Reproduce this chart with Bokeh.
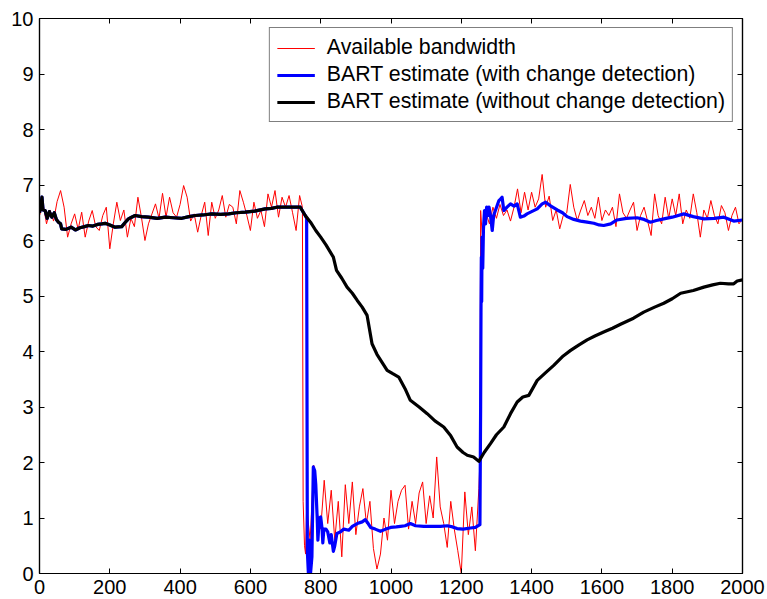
from bokeh.plotting import figure
from bokeh.models import Range1d, FixedTicker, LinearAxis, Legend, LegendItem, CustomJSTickFormatter
from bokeh.embed import file_html
from bokeh.resources import INLINE

# ---------------- data ----------------
# Available bandwidth (red), sampled by eye
red_x1 = list(range(0, 750, 10))
red_y1 = [6.45, 6.66, 6.30, 6.55, 6.35, 6.70, 6.90, 6.60, 6.06, 6.30,
          6.48, 6.20, 6.51, 6.06, 6.35, 6.54, 6.25, 6.18, 6.45, 6.60,
          5.85, 6.30, 6.69, 6.36, 6.55, 6.06, 6.40, 6.25, 6.78, 6.42,
          6.00, 6.30, 6.48, 6.66, 6.40, 6.85, 6.42, 6.78, 6.50, 6.42,
          6.65, 6.99, 6.78, 6.35, 6.48, 6.15, 6.45, 6.69, 6.09, 6.69,
          6.40, 6.55, 6.81, 6.42, 6.65, 6.60, 6.30, 6.90, 6.69, 6.45,
          6.18, 6.69, 6.40, 6.54, 6.25, 6.84, 6.60, 6.90, 6.42, 6.78,
          6.60, 6.81, 6.50, 6.18, 6.81]
red_xt1 = [748, 750, 754, 757]
red_yt1 = [6.60, 1.30, 0.50, 0.35]
red_x2 = list(range(760, 1255, 10))
red_y2 = [1.20, 0.60, 1.95, 1.10, 0.80, 1.68, 0.90, 1.50, 0.60, 1.30,
          0.30, 1.60, 0.90, 1.65, 0.70, 1.20, 1.53, 0.90, 1.30, 0.45,
          0.08, 0.35, 1.00, 0.60, 1.50, 0.90, 1.30, 1.50, 1.59, 0.80,
          1.30, 0.90, 1.45, 1.65, 0.90, 1.40, 1.00, 2.10, 1.20, 0.90,
          0.47, 1.30, 0.80, 0.41, 0.00, 1.47, 0.70, 1.20, 0.41, 1.53]
red_xt2 = [1253, 1255]
red_yt2 = [2.04, 6.54]
red_x3 = list(range(1260, 2001, 10))
red_y3 = [6.06, 6.50, 6.30, 6.60, 6.40, 6.65, 6.45, 6.55, 6.35, 6.60,
          6.93, 6.50, 6.87, 6.55, 6.87, 6.60, 6.75, 7.19, 6.60, 6.80,
          6.36, 6.55, 6.21, 6.45, 6.50, 7.01, 6.60, 6.36, 6.55, 6.72,
          6.45, 6.60, 6.40, 6.78, 6.36, 6.55, 6.45, 6.60, 6.25, 6.84,
          6.50, 6.40, 6.55, 6.69, 6.18, 6.45, 6.60, 6.35, 6.09, 6.84,
          6.45, 6.30, 6.78, 6.40, 6.75, 6.45, 6.84, 6.30, 6.55, 6.40,
          6.84, 6.50, 6.06, 6.55, 6.40, 6.72, 6.45, 6.30, 6.63, 6.50,
          6.18, 6.45, 6.60, 6.30, 6.39]

# BART estimate without change detection (black)
black_x = [0, 4, 7, 10, 16, 22, 28, 35, 42, 48, 54, 60, 63, 75, 90, 102, 115, 128, 139,
           152, 165, 177, 187, 200, 215, 234, 243, 253, 262, 272, 290, 310, 335, 358,
           380, 405, 425, 443, 465, 490, 515, 538, 560, 585, 612, 642, 660, 675, 710,
           742, 756, 771, 786, 800, 815, 836, 845, 860, 875, 890, 904, 918, 932, 946,
           960, 975, 989, 1005, 1022, 1040, 1055, 1080, 1103, 1125, 1150, 1170, 1188,
           1205, 1217, 1235, 1250, 1265, 1283, 1300, 1321, 1340, 1359, 1375, 1392, 1416,
           1440, 1463, 1490, 1511, 1535, 1558, 1580, 1605, 1630, 1653, 1690, 1719,
           1750, 1776, 1800, 1824, 1860, 1890, 1915, 1937, 1960, 1975, 1985, 2000]
black_y = [6.50, 6.62, 6.78, 6.55, 6.54, 6.40, 6.52, 6.42, 6.50, 6.38, 6.33, 6.30, 6.21,
           6.20, 6.24, 6.19, 6.23, 6.25, 6.27, 6.26, 6.29, 6.30, 6.31, 6.28, 6.24, 6.25,
           6.32, 6.39, 6.42, 6.45, 6.43, 6.42, 6.40, 6.42, 6.41, 6.40, 6.43, 6.45, 6.46,
           6.48, 6.47, 6.48, 6.50, 6.51, 6.53, 6.57, 6.58, 6.60, 6.60, 6.60, 6.45, 6.33,
           6.18, 6.06, 5.92, 5.70, 5.46, 5.32, 5.16, 5.05, 4.92, 4.80, 4.65, 4.14, 3.95,
           3.80, 3.66, 3.60, 3.54, 3.33, 3.12, 3.00, 2.88, 2.75, 2.64, 2.48, 2.28, 2.18,
           2.13, 2.10, 2.02, 2.18, 2.34, 2.50, 2.64, 2.88, 3.09, 3.18, 3.21, 3.48, 3.62,
           3.75, 3.92, 4.02, 4.12, 4.21, 4.28, 4.35, 4.42, 4.49, 4.60, 4.71, 4.80, 4.87,
           4.95, 5.05, 5.10, 5.16, 5.20, 5.23, 5.22, 5.22, 5.27, 5.29]

# BART estimate with change detection (blue); identical to black before the drop
blue_x_after = [760, 762, 765, 768, 771, 775, 779, 783, 786, 790, 792, 796, 800, 804,
                806, 809, 815, 820, 826, 830, 836, 840, 846, 856, 866, 880, 890, 904,
                918, 927, 935, 942, 955, 970, 985, 999, 1015, 1027, 1040, 1055, 1070,
                1093, 1120, 1141, 1160, 1175, 1188, 1205, 1226, 1240, 1253, 1255, 1256,
                1257, 1258, 1259, 1261, 1263, 1266, 1269, 1272, 1276, 1279, 1284, 1288,
                1292, 1297, 1303, 1307, 1312, 1316, 1321, 1330, 1340, 1350, 1359, 1365,
                1368, 1378, 1387, 1400, 1416, 1430, 1440, 1455, 1473, 1488, 1501, 1520,
                1539, 1558, 1577, 1592, 1605, 1625, 1643, 1670, 1700, 1720, 1738, 1755,
                1776, 1800, 1833, 1860, 1890, 1920, 1947, 1975, 2000]
blue_y_after = [6.40, 0.40, 0.00, 0.60, 0.00, 0.30, 1.92, 1.85, 1.60, 1.00, 0.60, 1.00,
                1.02, 0.80, 0.55, 0.80, 0.80, 0.75, 0.55, 0.70, 0.40, 0.50, 0.72, 0.75,
                0.80, 0.78, 0.85, 0.90, 0.93, 0.97, 0.90, 0.83, 0.80, 0.76, 0.80, 0.83,
                0.84, 0.85, 0.86, 0.90, 0.86, 0.85, 0.85, 0.85, 0.86, 0.84, 0.81, 0.80,
                0.82, 0.83, 0.88, 3.00, 4.70, 5.70, 4.90, 6.06, 5.50, 6.20, 6.54, 6.30,
                6.60, 6.45, 6.60, 6.40, 6.18, 6.45, 6.54, 6.65, 6.72, 6.75, 6.78, 6.54,
                6.60, 6.66, 6.62, 6.66, 6.50, 6.42, 6.44, 6.48, 6.52, 6.57, 6.66, 6.69,
                6.62, 6.55, 6.50, 6.43, 6.38, 6.35, 6.33, 6.31, 6.28, 6.27, 6.30, 6.37,
                6.40, 6.41, 6.38, 6.33, 6.36, 6.39, 6.42, 6.48, 6.43, 6.39, 6.40, 6.42,
                6.35, 6.37]

x_ticks = [0, 200, 400, 600, 800, 1000, 1200, 1400, 1600, 1800, 2000]
y_ticks = [0, 1, 2, 3, 4, 5, 6, 7, 8, 9, 10]
labels = ["Available bandwidth",
          "BART estimate (with change detection)",
          "BART estimate (without change detection)"]

# ---------------- assemble series ----------------
red_x = red_x1 + red_xt1 + red_x2 + red_xt2 + red_x3
red_y = red_y1 + red_yt1 + red_y2 + red_yt2 + red_y3
n_pre = sum(1 for v in black_x if v < 760)
blue_x = black_x[:n_pre] + blue_x_after
blue_y = black_y[:n_pre] + blue_y_after

FONT = "Liberation Sans"

p = figure(width=767, height=599, output_backend="svg", toolbar_location=None,
           x_range=Range1d(0, 2000), y_range=Range1d(0, 10),
           min_border_left=39, min_border_right=25, min_border_top=18, min_border_bottom=26)
p.background_fill_color = "white"
p.border_fill_color = "white"
p.outline_line_color = "black"
p.outline_line_width = 1.2
p.xgrid.visible = False
p.ygrid.visible = False

r_red = p.line(red_x, red_y, line_color="#ff0000", line_width=1)
r_blue = p.line(blue_x, blue_y, line_color="#0000ff", line_width=3.2, line_join="round")
r_black = p.line(black_x, black_y, line_color="black", line_width=3.2, line_join="round")

# bottom / left axes
xa = p.xaxis[0]
ya = p.yaxis[0]
for ax, ticks in ((xa, x_ticks), (ya, y_ticks)):
    ax.ticker = FixedTicker(ticks=ticks)
    ax.axis_line_color = "black"
    ax.axis_line_width = 1.2
    ax.major_tick_in = 5
    ax.major_tick_out = 0
    ax.minor_tick_line_color = None
    ax.major_tick_line_color = "black"
    ax.major_label_text_font = FONT
    ax.major_label_text_font_size = "20px"
    ax.major_label_text_color = "black"
xa.major_label_standoff = 6
ya.major_label_standoff = 6

# top / right axes (ticks only, MATLAB box style)
blank = CustomJSTickFormatter(code="return '';")
for loc, ticks in (("above", x_ticks), ("right", y_ticks)):
    ax = LinearAxis(ticker=FixedTicker(ticks=ticks), formatter=blank)
    ax.axis_line_color = "black"
    ax.axis_line_width = 1.2
    ax.major_tick_in = 5
    ax.major_tick_out = 0
    ax.minor_tick_line_color = None
    ax.major_label_standoff = 0
    ax.major_label_text_font_size = "1px"
    p.add_layout(ax, loc)

legend = Legend(items=[LegendItem(label=labels[0], renderers=[r_red]),
                       LegendItem(label=labels[1], renderers=[r_blue]),
                       LegendItem(label=labels[2], renderers=[r_black])],
                location="top_right", margin=9)
legend.border_line_color = "black"
legend.border_line_width = 1
legend.background_fill_color = "white"
legend.background_fill_alpha = 1
legend.label_text_font = FONT
legend.label_text_font_size = "21.3px"
legend.label_text_color = "black"
legend.glyph_width = 38
legend.glyph_height = 20
legend.label_height = 20
legend.label_standoff = 12
legend.spacing = 2
legend.padding = 7
p.add_layout(legend, "center")

open("out.html", "w").write(file_html(p, INLINE))
